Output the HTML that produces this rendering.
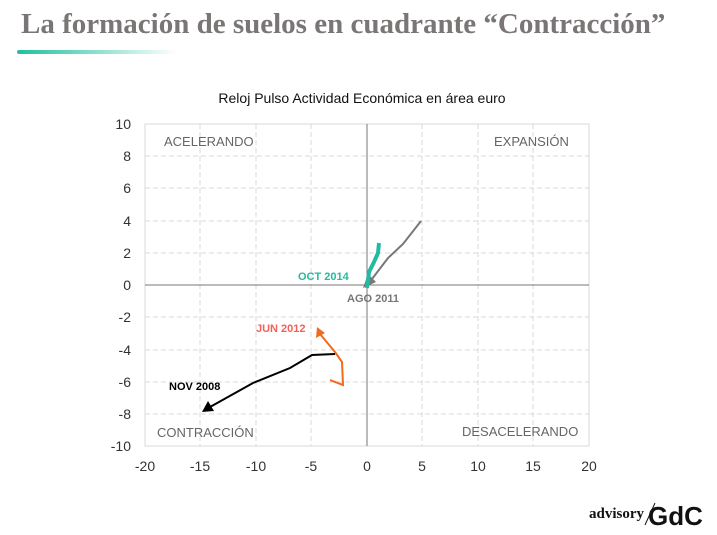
<!DOCTYPE html>
<html><head><meta charset="utf-8"><style>
body{margin:0;width:717px;height:535px;background:#fff;overflow:hidden;position:relative;font-family:"Liberation Sans",sans-serif}
.t{position:absolute;left:21px;top:8px;font-family:"Liberation Serif",serif;font-weight:bold;font-size:29px;color:#7b7676;white-space:nowrap}
.bar{position:absolute;left:17px;top:50px;width:160px;height:4px;border-radius:2px;background:linear-gradient(90deg,#1fbfa0,#fff)}
</style></head><body>
<div class="t">La formación de suelos en cuadrante “Contracción”</div>
<div class="bar"></div>
<svg width="717" height="535" style="position:absolute;left:0;top:0" font-family="Liberation Sans, sans-serif">
<text x="362" y="103" font-size="14" text-anchor="middle" fill="#111">Reloj Pulso Actividad Económica en área euro</text>
<g stroke="#d8d8d8" stroke-dasharray="5,3" stroke-width="1">
<line x1="200" y1="124" x2="200" y2="446"/><line x1="256" y1="124" x2="256" y2="446"/><line x1="311" y1="124" x2="311" y2="446"/><line x1="422" y1="124" x2="422" y2="446"/><line x1="478" y1="124" x2="478" y2="446"/><line x1="533" y1="124" x2="533" y2="446"/>
<line x1="145" y1="156" x2="589" y2="156"/><line x1="145" y1="188" x2="589" y2="188"/><line x1="145" y1="221" x2="589" y2="221"/><line x1="145" y1="253" x2="589" y2="253"/><line x1="145" y1="317" x2="589" y2="317"/><line x1="145" y1="350" x2="589" y2="350"/><line x1="145" y1="382" x2="589" y2="382"/><line x1="145" y1="414" x2="589" y2="414"/>
</g>
<rect x="145" y="124" width="444" height="322" fill="none" stroke="#d8d8d8"/>
<line x1="367" y1="124" x2="367" y2="446" stroke="#777"/>
<line x1="145" y1="285" x2="589" y2="285" stroke="#777"/>
<g font-size="14" fill="#333" text-anchor="end">
<text x="131" y="129">10</text><text x="131" y="161">8</text><text x="131" y="193">6</text><text x="131" y="226">4</text><text x="131" y="258">2</text><text x="131" y="290">0</text><text x="131" y="322">-2</text><text x="131" y="355">-4</text><text x="131" y="387">-6</text><text x="131" y="419">-8</text><text x="131" y="451">-10</text>
</g>
<g font-size="14" fill="#333" text-anchor="middle">
<text x="145" y="471">-20</text><text x="200" y="471">-15</text><text x="256" y="471">-10</text><text x="311" y="471">-5</text><text x="367" y="471">0</text><text x="422" y="471">5</text><text x="478" y="471">10</text><text x="533" y="471">15</text><text x="589" y="471">20</text>
</g>
<g font-size="13" fill="#666">
<text x="164" y="146">ACELERANDO</text><text x="494" y="146">EXPANSIÓN</text><text x="157" y="437">CONTRACCIÓN</text><text x="462" y="436">DESACELERANDO</text>
</g>
<polyline points="421,221 403,244 388,258 372,279" fill="none" stroke="#777" stroke-width="2"/>
<polygon points="363,288 368,274 376,282" fill="#777"/>
<polyline points="379,243 378,253 374,262 369,272 367,288" fill="none" stroke="#22bba0" stroke-width="4"/>
<polyline points="330,380 343,385 342,362 335,352 320,334" fill="none" stroke="#f26b1d" stroke-width="2"/>
<polygon points="317,327 316,338 325,333" fill="#f26b1d"/>
<polyline points="335,354 312,355 290,368 253,383 210,407" fill="none" stroke="#000" stroke-width="2"/>
<polygon points="202,412 208,401 214,411" fill="#000"/>
<g font-size="11" font-weight="bold">
<text x="298" y="280" fill="#22bba0">OCT 2014</text>
<text x="347" y="302" fill="#777">AGO 2011</text>
<text x="256" y="332" fill="#f2605a">JUN 2012</text>
<text x="169" y="390" fill="#000">NOV 2008</text>
</g>
<text x="589" y="518" font-family="Liberation Serif, serif" font-size="15" font-weight="bold" fill="#111">advisory</text>
<line x1="645" y1="525" x2="655" y2="503" stroke="#111"/>
<text x="648" y="525" font-size="26" font-weight="bold" fill="#111">GdC</text>
</svg>
</body></html>
